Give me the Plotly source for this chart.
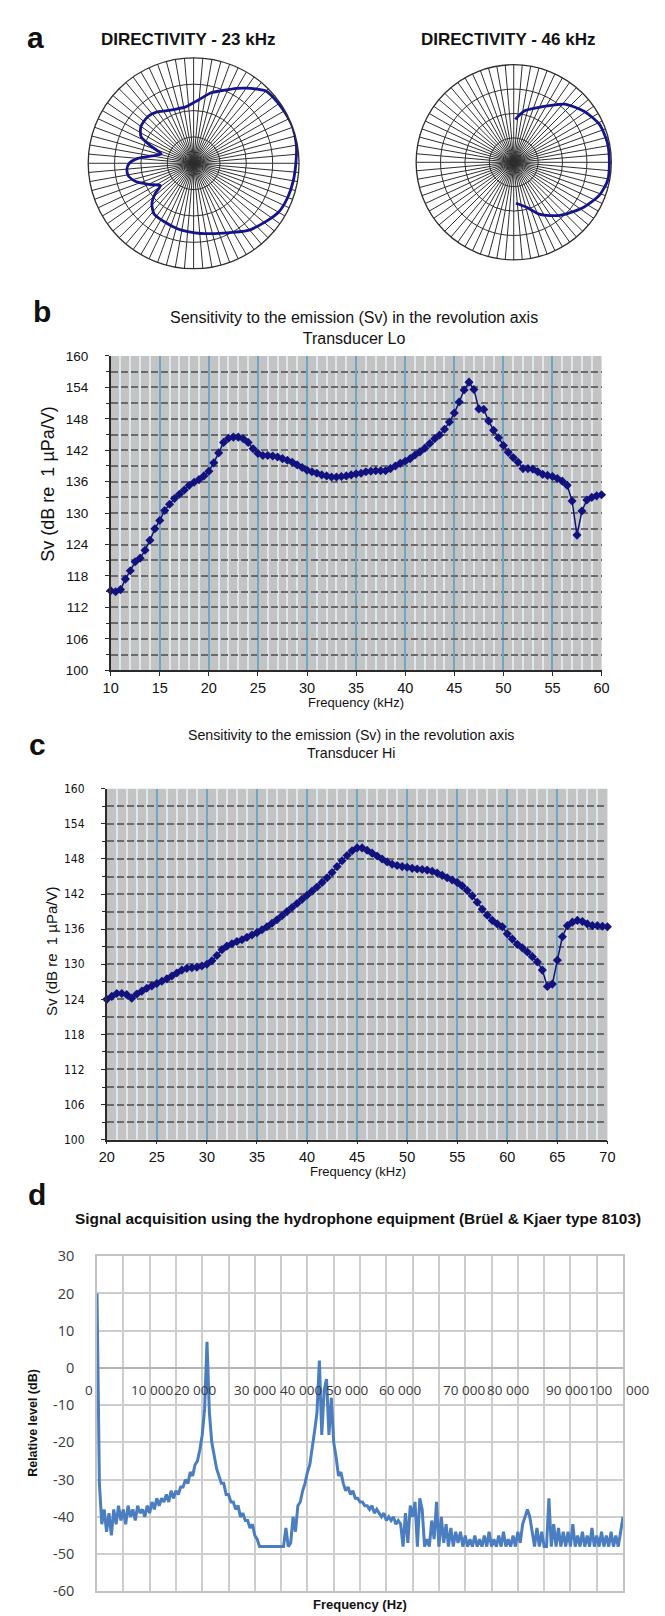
import plotly.graph_objects as go

W, H = 665, 1616

# ---------------- data ----------------
# (a) directivity patterns: angle (deg, counter-clockwise from the axis) and relative radius
theta_23k = [0, 10, 20, 30, 40, 45, 50, 55, 60, 65, 70, 76, 86, 98, 108, 117, 126, 134, 145, 153,
             158, 164, 170, 175, 180, 185, 191, 198, 206, 214, 218, 224, 232, 243, 256, 265, 276,
             293, 309, 321, 330, 340, 350, 360]
r_23k = [0.97, 0.99, 1.0, 0.99, 0.98, 0.97, 0.92, 0.87, 0.82, 0.77, 0.73, 0.69, 0.60, 0.54, 0.54,
         0.56, 0.60, 0.62, 0.61, 0.56, 0.44, 0.32, 0.40, 0.53, 0.61, 0.635, 0.63, 0.57, 0.46, 0.38,
         0.46, 0.55, 0.61, 0.62, 0.64, 0.65, 0.67, 0.72, 0.82, 0.88, 0.93, 0.95, 0.96, 0.97]

theta_46k = [88, 78, 64, 49, 36, 24, 12, 0, -11, -21, -33, -49, -63, -74, -87]
r_46k = [0.44, 0.54, 0.63, 0.79, 0.89, 0.96, 0.98, 0.98, 0.98, 0.94, 0.85, 0.72, 0.60, 0.48, 0.42]

# (b) Sv, transducer Lo, 10..60 kHz every 0.5 kHz
b_start_khz, b_step_khz = 10, 0.5
b_sv_db = [
    115.2, 115.0, 115.4, 117.4, 119.0, 120.7, 121.4, 122.9, 124.8, 127.0,
    128.6, 130.5, 131.7, 132.8, 133.6, 134.4, 135.3, 135.9, 136.4, 137.1,
    138.0, 139.6, 141.5, 143.5, 144.3, 144.5, 144.5, 144.2, 143.5, 142.3,
    141.4, 141.0, 141.0, 140.9, 140.7, 140.4, 140.1, 139.7, 139.2, 138.7,
    138.2, 137.9, 137.6, 137.3, 137.1, 136.9, 136.9, 137.0, 137.1, 137.3,
    137.5, 137.6, 137.9, 138.0, 138.1, 138.1, 138.1, 138.5, 139.0, 139.5,
    139.9, 140.4, 141.1, 141.7, 142.4, 143.3, 144.2, 144.9, 146.0, 147.4,
    149.1, 151.2, 153.5, 155.0, 153.6, 149.9, 149.8, 147.6, 145.8, 144.4,
    142.9, 141.6, 140.6, 139.7, 138.5, 138.5, 138.4, 137.9, 137.4, 137.2,
    137.0, 136.6, 136.1, 135.3, 132.3, 125.8, 130.4, 132.5, 133.0, 133.3,
    133.5]

# (c) Sv, transducer Hi, 20..70 kHz every 0.5 kHz
c_start_khz, c_step_khz = 20, 0.5
c_sv_db = [
    124.0, 124.5, 125.0, 125.0, 124.8, 124.2, 124.9, 125.4, 125.9, 126.3,
    126.7, 127.1, 127.5, 128.0, 128.5, 129.0, 129.3, 129.4, 129.5, 129.7,
    130.0, 130.6, 131.5, 132.5, 133.1, 133.5, 133.9, 134.2, 134.6, 135.0,
    135.4, 135.9, 136.4, 137.0, 137.6, 138.3, 139.0, 139.7, 140.4, 141.1,
    141.8, 142.5, 143.2, 144.0, 144.8, 145.7, 146.7, 147.7, 148.6, 149.4,
    149.9, 149.9, 149.5, 149.0, 148.5, 148.0, 147.5, 147.1, 146.9, 146.7,
    146.6, 146.4, 146.3, 146.2, 146.1, 145.9, 145.6, 145.2, 144.8, 144.4,
    144.0, 143.4, 142.6, 141.7, 140.6, 139.4, 138.4, 137.5, 136.9, 136.4,
    135.2, 134.3, 133.4, 132.8, 132.1, 131.3, 130.4, 129.0, 126.2, 126.6,
    130.7, 134.7, 136.6, 137.2, 137.5, 137.3, 136.9, 136.6, 136.6, 136.5,
    136.4]

# (d) hydrophone spectrum, 0..110 000 Hz every 500 Hz
d_start_hz, d_step_hz = 0, 500
d_level_db = [
    20, -31, -42, -38, -44, -39, -45, -38, -42, -37,
    -41, -38, -42, -37, -40, -38, -41, -37, -39, -38,
    -40, -37, -39, -36, -38, -35, -37, -35, -36, -34,
    -36, -33, -35, -33, -34, -32, -32, -30, -31, -28,
    -29, -26, -25, -22, -18, -11, 7, -12, -20, -24,
    -27, -29, -31, -31, -34, -34, -36, -36, -38, -37,
    -40, -39, -41, -41, -43, -42, -45, -46, -48, -48,
    -48, -48, -48, -48, -48, -48, -48, -48, -48, -43,
    -48, -47, -40, -44, -37, -36, -33, -31, -28, -26,
    -22, -17, -12, 2, -18, -6, -3, -18, -8, -20,
    -24, -29, -28, -31, -33, -32, -34, -33, -35, -35,
    -36, -36, -37, -37, -38, -37, -39, -38, -39, -40,
    -39, -41, -40, -41, -40, -42, -41, -42, -48, -39,
    -47, -37, -40, -36, -48, -35, -38, -48, -46, -48,
    -41, -46, -36, -48, -40, -47, -42, -48, -43, -48,
    -44, -47, -44, -48, -45, -48, -46, -48, -45, -48,
    -46, -48, -45, -48, -44, -48, -46, -48, -45, -48,
    -44, -48, -46, -48, -45, -48, -44, -47, -42, -40,
    -38, -40, -44, -48, -43, -48, -44, -48, -48, -35,
    -48, -42, -48, -43, -48, -44, -48, -44, -48, -42,
    -48, -45, -48, -44, -48, -45, -48, -43, -48, -45,
    -48, -44, -48, -45, -48, -44, -48, -45, -48, -44,
    -40]

d_ytick_vals = [30, 20, 10, 0, -10, -20, -30, -40, -50, -60]
d_ytick_text = ["30", "20", "10", "0", "-10", "-20", "-30", "-40", "-50", "-60"]
d_xlabel_text = ["0", "10 000", "20 000", "30 000", "40 000", "50 000", "60 000",
                 "70 000", "80 000", "90 000", "100", "000"]
d_xlabel_hz = [0, 11400, 20400, 33100, 42700, 52200, 63300, 76700, 85900, 98200, 105300, 110000]
d_xlabel_anchor = ["right"] + ["center"] * 10 + ["left"]

# ---------------- layout helpers ----------------
def px(x):
    return x / W


def py(y):
    return 1 - y / H


ARIAL = "Liberation Sans, Arial, sans-serif"
NARROW = "Liberation Sans Narrow, Arial Narrow, DejaVu Sans Condensed, Liberation Sans, sans-serif"
CALIBRI = "Open Sans, Carlito, Calibri, sans-serif"
NAVY = "#12127f"

annotations = []


def ann(text, x, y, size, bold=False, family=ARIAL, color="#111111", angle=0,
        xanchor="center", yanchor="middle"):
    annotations.append(dict(
        text=f"<b>{text}</b>" if bold else text, x=px(x), y=py(y), xref="paper", yref="paper",
        showarrow=False, xanchor=xanchor, yanchor=yanchor, textangle=angle,
        font=dict(family=family, size=size, color=color)))


fig = go.Figure()

# (a) polar plots
fig.add_trace(go.Scatterpolar(r=r_23k, theta=theta_23k, mode="lines", subplot="polar",
                              line=dict(color="#14148c", width=2.8, shape="spline", smoothing=0.7),
                              hoverinfo="skip"))
fig.add_trace(go.Scatterpolar(r=r_46k, theta=theta_46k, mode="lines", subplot="polar2",
                              line=dict(color="#14148c", width=2.8, shape="spline", smoothing=0.7),
                              hoverinfo="skip"))

# (b), (c) sensitivity curves
fig.add_trace(go.Scatter(y=b_sv_db, x0=b_start_khz, dx=b_step_khz, mode="lines+markers",
                         xaxis="x", yaxis="y", cliponaxis=False,
                         line=dict(color=NAVY, width=1.5),
                         marker=dict(symbol="diamond", size=7, color=NAVY)))
fig.add_trace(go.Scatter(y=c_sv_db, x0=c_start_khz, dx=c_step_khz, mode="lines+markers",
                         xaxis="x2", yaxis="y2", cliponaxis=False,
                         line=dict(color=NAVY, width=1.5),
                         marker=dict(symbol="diamond", size=7, color=NAVY)))

# (d) spectrum
fig.add_trace(go.Scatter(y=d_level_db, x0=d_start_hz, dx=d_step_hz, mode="lines",
                         xaxis="x3", yaxis="y3", line=dict(color="#4a7ec0", width=3)))


def polar_cfg(cx, cy, r):
    return dict(
        domain=dict(x=[px(cx - r), px(cx + r)], y=[py(cy + r), py(cy - r)]),
        bgcolor="white",
        angularaxis=dict(dtick=5, showgrid=True, gridcolor="#2e2e2e", gridwidth=1.1,
                         showticklabels=False, ticks="", showline=True,
                         linecolor="#2e2e2e", linewidth=1.3),
        radialaxis=dict(range=[0, 1], tickvals=[0.25, 0.5, 0.75], showgrid=True,
                        gridcolor="#2e2e2e", gridwidth=1.3, showticklabels=False,
                        ticks="", showline=False))


def sens_x(dom, lo, hi, anchor, ticklen):
    return dict(domain=dom, anchor=anchor, range=[lo, hi], tick0=lo, dtick=5,
                showgrid=True, gridcolor="#6ea7c5", gridwidth=1.6,
                minor=dict(tick0=lo, dtick=1, showgrid=True, gridcolor="#dce7ee", gridwidth=1.6),
                showline=True, linecolor="#2a2a2a", linewidth=1.5,
                ticks="outside", ticklen=ticklen, tickcolor="#2a2a2a",
                tickfont=dict(family=ARIAL, size=14.5, color="#111111"), zeroline=False)


def sens_y(dom, anchor, font, standoff):
    return dict(domain=dom, anchor=anchor, range=[100, 160], tick0=100, dtick=6,
                showgrid=True, gridcolor="#6a6a6a", gridwidth=2, griddash="7px,3px",
                minor=dict(tick0=100, dtick=3, showgrid=True, gridcolor="#6a6a6a", gridwidth=2,
                           griddash="7px,3px", ticks="outside", ticklen=3, tickcolor="#2a2a2a"),
                showline=True, linecolor="#2a2a2a", linewidth=1.5,
                ticks="outside", ticklen=4, tickcolor="#2a2a2a", ticklabelstandoff=standoff,
                tickfont=font, zeroline=False)


gray_bg = [dict(type="rect", xref=f"{xa} domain", yref=f"{ya} domain", x0=0, x1=1, y0=0, y1=1,
                fillcolor="#c3c3c3", line=dict(width=0), layer="below")
           for xa, ya in (("x", "y"), ("x2", "y2"))]

fig.update_layout(
    width=W, height=H, autosize=False, margin=dict(l=0, r=0, t=0, b=0),
    paper_bgcolor="white", plot_bgcolor="white", showlegend=False,
    polar=polar_cfg(182, 147, 108),
    polar2=polar_cfg(510, 146, 100),
    xaxis=sens_x([px(97), px(600)], 10, 60, "y", 4),
    yaxis=sens_y([py(660), py(342)], "x", dict(family=ARIAL, size=13.5, color="#111111"), 14),
    xaxis2=sens_x([px(93), px(606)], 20, 70, "y2", 3),
    yaxis2=sens_y([py(1135), py(780)], "x2", dict(family=NARROW, size=12, color="#111111"), 14),
    xaxis3=dict(domain=[px(83), px(622)], anchor="y3", range=[0, 110000], tick0=0, dtick=5500,
                showgrid=True, gridcolor="#cdcdcd", gridwidth=1.6, showticklabels=False,
                ticks="", showline=True, mirror=True, linecolor="#c2c2c2", linewidth=1.6,
                zeroline=False),
    yaxis3=dict(domain=[py(1592), py(1253)], anchor="x3", range=[-60, 30],
                tickvals=d_ytick_vals, ticktext=d_ytick_text,
                showgrid=True, gridcolor="#cdcdcd", gridwidth=1.6, ticks="",
                showline=True, mirror=True, linecolor="#c2c2c2", linewidth=1.6,
                zeroline=True, zerolinecolor="#b4b4b4", zerolinewidth=1.6,
                ticklabelstandoff=18,
                tickfont=dict(family=CALIBRI, size=14.5, color="#3a3a3a")),
    shapes=gray_bg,
)

# ---------------- texts ----------------
ann("a", 20, 20, 30, bold=True)
ann("DIRECTIVITY - 23 kHz", 176, 22, 17, bold=True)
ann("DIRECTIVITY - 46 kHz", 504, 22, 17, bold=True)

ann("b", 27, 297, 30, bold=True)
ann("Sensitivity to the emission (Sv) in the revolution axis<br>Transducer Lo", 346, 314, 16)
ann("Frequency (kHz)", 348, 693, 13)
ann("Sv (dB re  1 µPa/V)", 33, 472, 18, angle=-90)

ann("c", 22, 735, 30, bold=True)
ann("Sensitivity to the emission (Sv) in the revolution axis<br>Transducer Hi", 343, 735, 14.2)
ann("Frequency (kHz)", 350, 1167, 13)
ann("Sv (dB re  1 µPa/V)", 37, 944, 15, angle=-90)

ann("d", 22, 1190, 30, bold=True)
ann("Signal acquisition using the hydrophone equipment (Brüel &amp; Kjaer type 8103)",
    350, 1215, 15.4, bold=True)
ann("Relative level (dB)", 18, 1422, 12.5, bold=True, angle=-90)
ann("Frequency (Hz)", 352, 1605, 13, bold=True)

for txt, hz, anc in zip(d_xlabel_text, d_xlabel_hz, d_xlabel_anchor):
    annotations.append(dict(text=txt, x=hz, y=0, xref="x3", yref="y3", showarrow=False,
                            xanchor=anc, yanchor="top", yshift=-11,
                            xshift=-2 if anc == "right" else (1 if anc == "left" else 0),
                            font=dict(family=CALIBRI, size=13.5, color="#3a3a3a")))

fig.update_layout(annotations=annotations)

fig.write_html("out.html")
